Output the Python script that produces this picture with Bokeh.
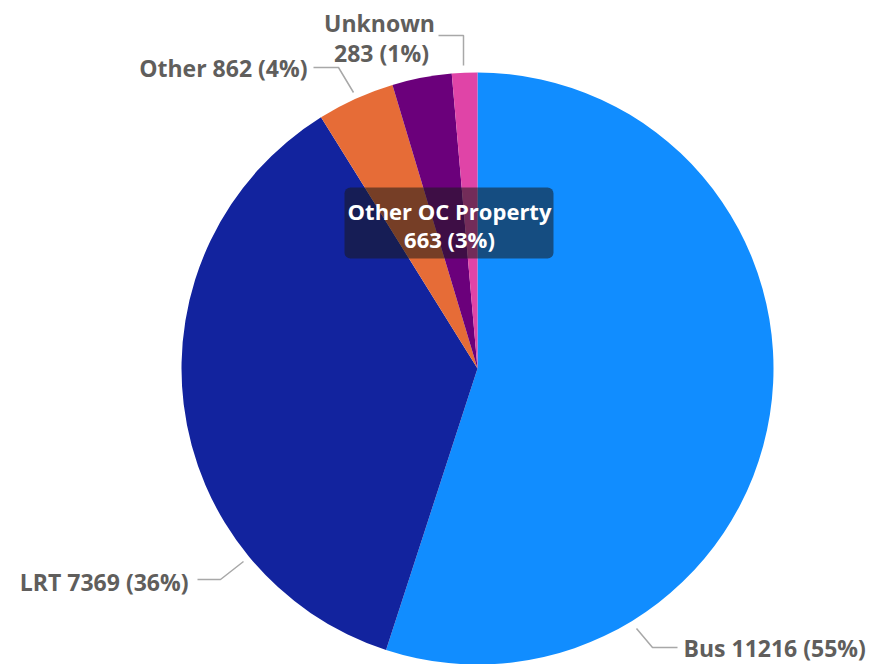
import math
from bokeh.plotting import figure
from bokeh.models import Range1d, ColumnDataSource, BoxAnnotation
from bokeh.core.properties import value
from bokeh.embed import file_html
from bokeh.resources import INLINE

# ---- data ----
categories = ["Bus", "LRT", "Other", "Other OC Property", "Unknown"]
counts = [11216, 7369, 862, 663, 283]
percents = ["55%", "36%", "4%", "3%", "1%"]
colors = ["#118DFF", "#12239E", "#E66C37", "#6B007B", "#E044A7"]

# ---- layout (page pixels) ----
W, H = 871, 664
CX, CY, R = 477, 368, 296
FS = "23px"

p = figure(width=W, height=H, output_backend="svg", toolbar_location=None,
           x_range=Range1d(0, W), y_range=Range1d(-H, 0),
           min_border=0, outline_line_color=None)
p.axis.visible = False
p.grid.visible = False
p.background_fill_color = "white"

total = sum(counts)
starts, ends = [], []
cum = 0
for c in counts:
    starts.append(math.pi / 2 - 2 * math.pi * cum / total)
    cum += c
    ends.append(math.pi / 2 - 2 * math.pi * cum / total)

src = ColumnDataSource(dict(start=starts, end=ends, color=colors,
                            x=[CX] * len(counts), y=[-CY] * len(counts)))
p.wedge(x="x", y="y", radius=R, start_angle="start", end_angle="end",
        direction="clock", fill_color="color", line_color=None, source=src)

# leader lines (page pixel coords)
leaders = {
    "Bus": ([636, 652, 677], [628, 647, 647]),
    "LRT": ([197, 220, 243], [579, 579, 561]),
    "Other": ([313, 338, 353], [67, 67, 92]),
    "Unknown": ([438, 463, 463], [35, 35, 65]),
}
for k, (xs, ys) in leaders.items():
    p.line(xs, [-y for y in ys], line_color="#A8A8A8", line_width=1.5)

label_pos = {
    "Bus": (683, 647, "left"),
    "LRT": (188, 581, "right"),
    "Other": (307, 67, "right"),
}
lab_color = "#605E5C"
for i, cat in enumerate(categories):
    if cat in label_pos:
        x, y, al = label_pos[cat]
        p.text(x=[x], y=[-y], text=[f"{cat} {counts[i]} ({percents[i]})"],
               text_font=value("Open Sans"), text_font_style="bold",
               text_font_size=FS, text_color=lab_color,
               text_align=al, text_baseline="middle")

# Unknown: two lines
ui = categories.index("Unknown")
p.text(x=[379, 381], y=[-22, -52], text=[categories[ui], f"{counts[ui]} ({percents[ui]})"],
       text_font=value("Open Sans"), text_font_style="bold",
       text_font_size=FS, text_color=lab_color,
       text_align="center", text_baseline="middle")

# tooltip
box = BoxAnnotation(left=344, right=553, top=-187, bottom=-258,
                    fill_color="#1a1a1a", fill_alpha=0.55, line_color=None,
                    border_radius=6)
p.add_layout(box)
oi = categories.index("Other OC Property")
tip = p.text(x=[449, 449], y=[-210, -238], text=[categories[oi], f"{counts[oi]} ({percents[oi]})"],
             text_font=value("Open Sans"), text_font_style="bold",
             text_font_size="22px", text_color="white",
             text_align="center", text_baseline="middle")
tip.level = "overlay"

open("out.html", "w").write(file_html(p, INLINE))
